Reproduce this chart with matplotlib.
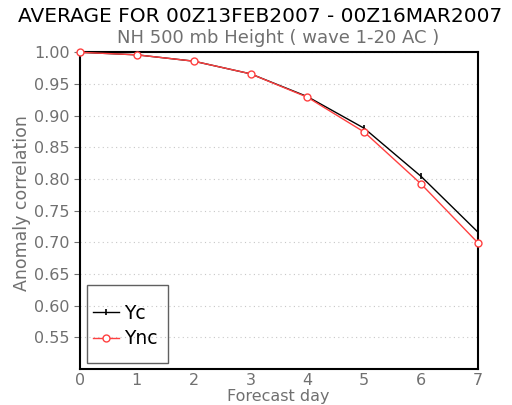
import matplotlib
matplotlib.use("Agg")
import matplotlib.pyplot as plt
from matplotlib.patches import Rectangle

days = [0, 1, 2, 3, 4, 5, 6, 7]
yc = [1.000, 0.996, 0.986, 0.966, 0.930, 0.880, 0.804, 0.716]
ync = [1.000, 0.996, 0.986, 0.966, 0.929, 0.874, 0.792, 0.699]
yticks = [0.55, 0.60, 0.65, 0.70, 0.75, 0.80, 0.85, 0.90, 0.95, 1.00]
xticks = [0, 1, 2, 3, 4, 5, 6, 7]

W, H = 512, 405
gray = "#707070"
fig = plt.figure(figsize=(5.12, 4.05), dpi=100)
ax = fig.add_axes([80/W, 1-369/H, (478-80)/W, (369-52.3)/H])

ax.plot(days, yc, color="black", lw=1.0, marker="|", ms=5, mew=1.2, label="Yc", clip_on=False, zorder=3)
ax.plot(days, ync, color="#ff4040", lw=1.0, marker="o", ms=5, mfc="white", mec="#ff4040", mew=1.0, label="Ync", clip_on=False, zorder=4)

ax.set_xlim(0, 7)
ax.set_ylim(0.5, 1.0)
ax.set_yticks(yticks)
ax.set_yticklabels([f"{v:.2f}" for v in yticks])
ax.set_xticks(xticks)
ax.tick_params(axis="y", direction="out", length=4, colors=gray, labelsize=11.5, labelcolor=gray)
ax.tick_params(axis="x", length=0, labelsize=11.5, labelcolor=gray, pad=3)
for v in yticks:
    ax.axhline(v, color="#c8c8c8", lw=0.8, ls=(0, (1, 3)), zorder=1)
for s in ax.spines.values():
    s.set_linewidth(1.5)

fig.text(278/W, 1-397/H, "Forecast day", ha="center", va="center", fontsize=11.5, color=gray)
fig.text(22/W, 1-203/H, "Anomaly correlation", ha="center", va="center", rotation=90, fontsize=12.5, color=gray)

fig.text(260/W, 1-17/H, "AVERAGE FOR 00Z13FEB2007 - 00Z16MAR2007", ha="center", va="center", fontsize=14.5, color="black")
fig.text(278/W, 1-38/H, "NH 500 mb Height ( wave 1-20 AC )", ha="center", va="center", fontsize=13, color=gray)

# legend box
x0, x1 = (87-80)/398, (168-80)/398
y0, y1 = (369-363)/316.7, (369-285)/316.7
ax.add_patch(Rectangle((x0, y0), x1-x0, y1-y0, transform=ax.transAxes, fill=False,
                       edgecolor="#606060", lw=1.0, zorder=5))
leg = ax.legend(loc="center left", bbox_to_anchor=(x0 + 6/398, (y0+y1)/2 - 2/316.7), fontsize=13.5, frameon=False,
                handlelength=1.4, handletextpad=0.25, borderpad=0.0, labelspacing=0.35,
                borderaxespad=0)

fig.savefig("out.png", dpi=100)
